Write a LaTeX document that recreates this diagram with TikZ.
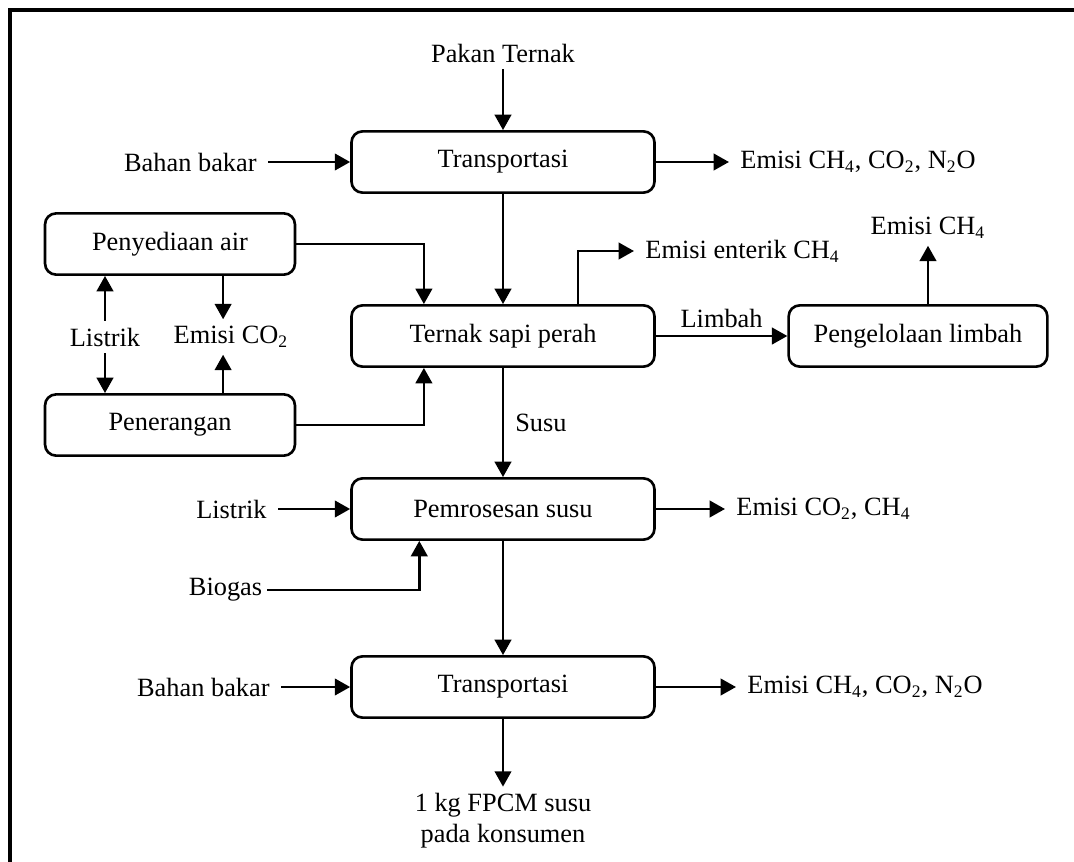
\documentclass[tikz,border=0pt]{standalone}
\usepackage{fontspec}
\setmainfont{Liberation Serif}
\usetikzlibrary{arrows.meta,positioning,calc}

\begin{document}
\begin{tikzpicture}[
  x=0.016cm, y=-0.016cm,
  box/.style={rectangle, rounded corners=5pt, draw, line width=1.2pt, minimum width=4.85cm, minimum height=0.98cm, font=\fontsize{12}{14}\selectfont, align=center},
  sidebox/.style={box, minimum width=4cm},
  lbl/.style={font=\fontsize{12}{14}\selectfont, inner xsep=5pt, inner ysep=3pt, align=center},
  arrow/.style={-{Triangle[length=7pt,width=7.5pt]}, line width=1.2pt}
]
\useasboundingbox (0,0) rectangle (1074,862);

% Frame
\draw[line width=1.6pt] (1074,10) -- (10,10) -- (10,862);

% Main chain
\node[box] (trans1) at (503,162) {Transportasi};
\node[box] (ternak) at (503,336) {Ternak sapi perah};
\node[box] (proses) at (503,509) {Pemrosesan susu};
\node[box] (trans2) at (503,687) {Transportasi};

% Side processes
\node[sidebox] (air) at (170,244) {Penyediaan air};
\node[sidebox] (terang) at (170,425) {Penerangan};
\node[box, minimum width=4.14cm] (limbah) at (918,336) {Pengelolaan limbah};

% Inputs
\node[lbl] (pakan) at (503,53) {Pakan Ternak};
\node[lbl, anchor=east] (bakarA) at (268,162) {Bahan bakar};
\node[lbl] (listrikA) at (105,337) {Listrik};
\node[lbl, anchor=east] (listrikB) at (278,509) {Listrik};
\node[lbl, anchor=east, inner xsep=2pt] (biogas) at (267,590) {Biogas};
\node[lbl, anchor=east] (bakarB) at (281,687) {Bahan bakar};

% Outputs
\node[lbl, anchor=west] (emisiA) at (729,162) {Emisi CH\textsubscript{4}, CO\textsubscript{2}, N\textsubscript{2}O};
\node[lbl] (co2) at (231,337) {Emisi CO\textsubscript{2}};
\node[lbl, anchor=west] (enterik) at (634,251) {Emisi enterik CH\textsubscript{4}};
\node[lbl] (emisiC) at (928,228) {Emisi CH\textsubscript{4}};
\node[lbl, anchor=west] (emisiB) at (725,509) {Emisi CO\textsubscript{2}, CH\textsubscript{4}};
\node[lbl, anchor=west] (emisiD) at (736,687) {Emisi CH\textsubscript{4}, CO\textsubscript{2}, N\textsubscript{2}O};
\node[lbl] (konsumen) at (503,821) {1 kg FPCM susu\\pada konsumen};

% Arrows
\draw[arrow] (pakan) -- (trans1);
\draw[arrow] (bakarA) -- (trans1);
\draw[arrow] (trans1) -- (emisiA.west |- trans1);
\draw[arrow] (trans1) -- (ternak);
\draw[arrow] (air.east) -| ([xshift=1.18cm]ternak.north west);
\draw[arrow] (terang.east) -| ([xshift=1.18cm]ternak.south west);
\draw[arrow] (listrikA) -- (listrikA |- air.south);
\draw[arrow] (listrikA) -- (listrikA |- terang.north);
\draw[arrow] ([xshift=0.85cm]air.south) -- ([xshift=0.85cm]air.south |- co2.north);
\draw[arrow] ([xshift=0.85cm]terang.north) -- ([xshift=0.85cm]terang.north |- co2.south);
\draw[arrow] ([xshift=1.2cm]ternak.north) |- (enterik.west);
\draw[arrow] (ternak) -- node[lbl, above] {Limbah} (limbah);
\draw[arrow] (limbah.north -| emisiC) -- (emisiC);
\draw[arrow] (ternak) -- node[lbl, right] {Susu} (proses);
\draw[arrow] (listrikB) -- (proses);
\draw[arrow] (biogas) -| ([xshift=-1.34cm]proses.south);
\draw[arrow] (proses) -- (emisiB.west |- proses);
\draw[arrow] (proses) -- (trans2);
\draw[arrow] (bakarB) -- (trans2);
\draw[arrow] (trans2) -- (emisiD.west |- trans2);
\draw[arrow] (trans2) -- (konsumen);

\end{tikzpicture}
\end{document}
